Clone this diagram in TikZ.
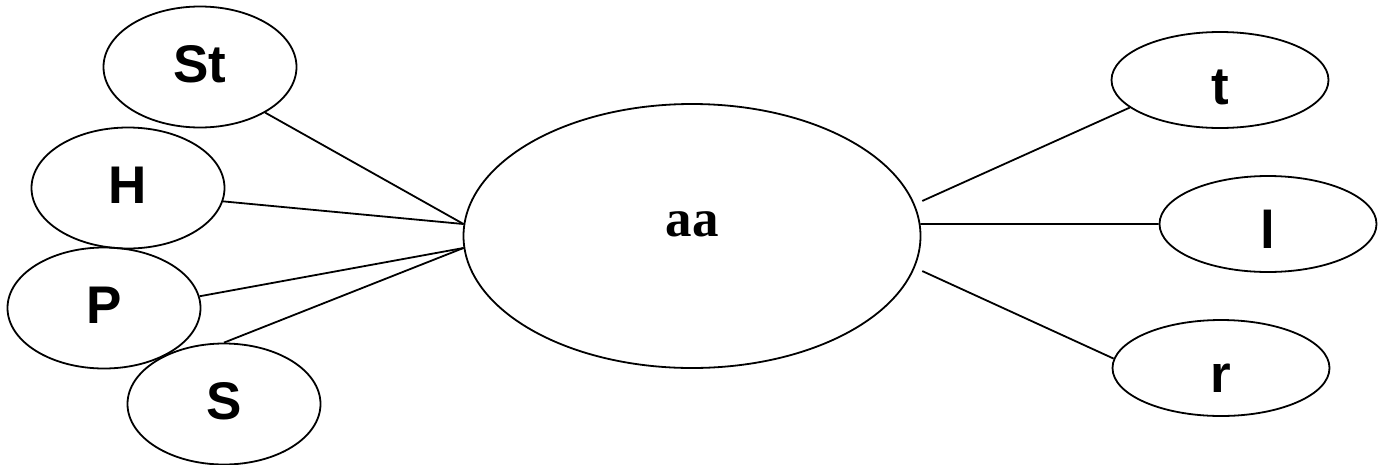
\documentclass[tikz,border=0pt]{standalone}
\usepackage{fontspec}
\setmainfont{Liberation Serif}
\setsansfont{Liberation Sans}
\usetikzlibrary{shapes.geometric}
\begin{document}
\begin{tikzpicture}
    [x=1pt, y=-1pt,
 cloud/.style ={draw=black, line width=1.8pt, ellipse, inner sep=0pt, font=\sffamily\bfseries\fontsize{53}{60}\selectfont},
 cloudl/.style ={cloud, minimum width=193pt, minimum height=121pt, text height=31pt, text depth=0pt},
 cloudr/.style ={cloud, minimum width=217pt, minimum height=96pt, text height=49pt, text depth=0pt},
 hub/.style ={cloud, minimum width=457pt, minimum height=264pt, text height=0pt, text depth=0pt, font=\rmfamily\bfseries\fontsize{53}{60}\selectfont},
 line/.style ={draw, line width=1.8pt}]
        \useasboundingbox (0,0) rectangle (1378,464);
        \node[hub] (aa) at (692,236) {aa};
        \node[cloudl] (St) at (200,67) {St};
        \node[cloudl] (H) at (128,188) {H};
        \node[cloudl] (P) at (104,308) {P};
        \node[cloudl] (S) at (224,404) {S};
        \node[cloudr] (t) at (1220,80) {t};
        \node[cloudr] (l) at (1268,224) {l};
        \node[cloudr] (r) at (1221,368) {r};
         \draw[line] (St.-35) -- (aa.177);
         \draw[line] (H.-8) -- (aa.177);
         \draw[line] (P.7) -- (aa.183);
         \draw[line] (S.north) -- (aa.183);
         \draw[line] ([xshift=9pt]aa.9) -- (t.197);
         \draw[line] (aa.3) -- (l.west);
         \draw[line] ([xshift=9pt]aa.-9) -- (r.175);
    \end{tikzpicture}
\end{document}
